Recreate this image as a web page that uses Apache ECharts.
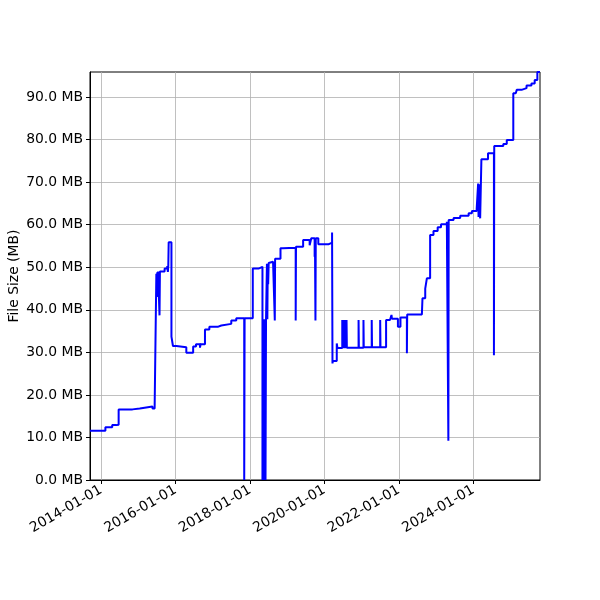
<!DOCTYPE html>
<html>
<head>
<meta charset="utf-8">
<script src="https://cdn.jsdelivr.net/npm/echarts@6/dist/echarts.min.js"></script>
<style>
  html, body { margin: 0; padding: 0; background: #fff; }
  #main { width: 600px; height: 600px; }
</style>
</head>
<body>
<div id="main"></div>
<script>
// dates where the file size changes, and the size (MB) from that date on
var changeDates = [
  '2013-09-14', '2014-02-12', '2014-04-20', '2014-06-01', '2014-06-22', '2014-11-05',
  '2015-01-15', '2015-03-04', '2015-05-20', '2015-06-10', '2015-06-27', '2015-07-02',
  '2015-07-06', '2015-07-10', '2015-07-14', '2015-07-28', '2015-08-01', '2015-09-16',
  '2015-10-12', '2015-10-18', '2015-10-22', '2015-10-26', '2015-11-22', '2015-12-07',
  '2016-01-10', '2016-04-16', '2016-06-22', '2016-07-20', '2016-08-28', '2016-09-03',
  '2016-10-16', '2016-11-28', '2017-02-18', '2017-03-25', '2017-07-01', '2017-08-19',
  '2017-11-05', '2017-11-09', '2018-01-28', '2018-03-25', '2018-05-03', '2018-05-08',
  '2018-05-13', '2018-05-18', '2018-05-23', '2018-05-28', '2018-06-02', '2018-06-07',
  '2018-06-16', '2018-06-20', '2018-06-24', '2018-06-28', '2018-07-03', '2018-07-20',
  '2018-08-15', '2018-09-01', '2018-09-04', '2018-10-27', '2018-11-20', '2019-03-25',
  '2019-03-28', '2019-06-06', '2019-08-09', '2019-08-25', '2019-09-27', '2019-09-30',
  '2019-10-05', '2019-10-08', '2019-11-02', '2020-02-09', '2020-03-16', '2020-03-20',
  '2020-03-24', '2020-05-01', '2020-05-08', '2020-06-24', '2020-06-27', '2020-07-04',
  '2020-07-07', '2020-07-14', '2020-07-17', '2020-07-25', '2020-07-28', '2020-08-05',
  '2020-08-08', '2020-12-01', '2020-12-04', '2021-01-18', '2021-01-21', '2021-04-09',
  '2021-04-12', '2021-07-01', '2021-07-04', '2021-08-28', '2021-10-05', '2021-10-20',
  '2021-10-24', '2021-12-22', '2022-01-16', '2022-03-20', '2022-03-23', '2022-08-14',
  '2022-08-20', '2022-09-16', '2022-10-02', '2022-11-03', '2022-12-06', '2023-01-16',
  '2023-02-18', '2023-04-16', '2023-05-01', '2023-05-04', '2023-06-21', '2023-08-25',
  '2023-11-16', '2023-12-18', '2024-02-03', '2024-02-17', '2024-02-21', '2024-02-25',
  '2024-02-29', '2024-03-08', '2024-03-20', '2024-05-24', '2024-07-21', '2024-07-24',
  '2024-10-21', '2024-11-24', '2025-01-27', '2025-02-20', '2025-03-02', '2025-04-18',
  '2025-06-06', '2025-07-24', '2025-08-25', '2025-09-20', '2025-10-16'
];
var fileSizes = [
  11.6, 12.4, 12.9, 13.0, 16.6, 16.8,
  17.0, 17.3, 16.8, 17.2, 48.5, 43.0,
  48.8, 45.0, 49.0, 38.7, 49.0, 49.7,
  50.3, 48.9, 50.3, 55.9, 33.7, 31.5,
  31.2, 29.9, 31.4, 31.9, 31.1, 31.9,
  35.4, 36.0, 36.3, 36.7, 37.5, 38.0,
  0.0, 38.0, 49.7, 50.1, 0.0, 37.8,
  0.0, 37.8, 0.0, 37.8, 0.0, 37.8,
  50.8, 37.8, 50.8, 46.0, 51.0, 51.3,
  51.7, 37.5, 52.0, 54.5, 54.6, 37.5,
  54.8, 56.4, 55.2, 56.8, 52.5, 56.8,
  37.5, 56.8, 55.4, 55.8, 58.2, 27.4,
  28.0, 32.1, 31.0, 37.6, 31.0, 37.6,
  31.0, 37.6, 31.0, 37.6, 31.0, 37.6,
  31.1, 37.6, 31.1, 37.6, 31.2, 37.6,
  31.2, 37.6, 31.2, 37.6, 37.8, 38.8,
  37.9, 36.0, 38.2, 29.8, 38.9, 39.1,
  42.7, 45.0, 47.4, 57.6, 58.5, 59.4,
  60.1, 60.7, 9.2, 61.1, 61.6, 62.1,
  62.7, 63.2, 63.8, 69.7, 61.8, 69.5,
  64.0, 61.5, 75.4, 76.8, 29.3, 78.5,
  79.0, 79.9, 90.9, 91.3, 91.7, 92.1,
  92.7, 93.2, 94.0, 95.9, 95.9
];
var xTicks = ['2014-01-01', '2016-01-01', '2018-01-01', '2020-01-01', '2022-01-01', '2024-01-01'];
var yTicks = [0, 10, 20, 30, 40, 50, 60, 70, 80, 90];

function toTime(s) {
  var p = s.split('-');
  return Date.UTC(+p[0], +p[1] - 1, +p[2]);
}
function pad(n) { return n < 10 ? '0' + n : '' + n; }

var myChart = echarts.init(document.getElementById('main'));
var font = 'DejaVu Sans';
var xTickTimes = xTicks.map(toTime);

var option = {
  animation: false,
  backgroundColor: '#fff',
  textStyle: { fontFamily: font },
  grid: {
    left: 90, right: 60, top: 72, bottom: 120,
    outerBoundsMode: 'none',
    containLabel: false,
    show: true, borderColor: '#000', borderWidth: 1, backgroundColor: 'transparent'
  },
  xAxis: {
    type: 'value',
    min: toTime('2013-09-14'),
    max: toTime('2025-10-16'),
    axisLine: { lineStyle: { color: '#000', width: 1 } },
    axisTick: { show: true, length: 4, lineStyle: { color: '#000' }, customValues: xTickTimes },
    axisLabel: {
      customValues: xTickTimes,
      rotate: 30,
      margin: 9,
      color: '#000',
      fontSize: 13.9,
      fontFamily: font,
      hideOverlap: false,
      formatter: function (val) {
        var d = new Date(val);
        return d.getUTCFullYear() + '-' + pad(d.getUTCMonth() + 1) + '-' + pad(d.getUTCDate());
      }
    },
    splitLine: { show: true, lineStyle: { color: '#b0b0b0', width: 0.8 } }
  },
  yAxis: {
    type: 'value',
    min: 0,
    max: 95.9,
    name: 'File Size (MB)',
    nameLocation: 'middle',
    nameGap: 69,
    nameMoveOverlap: false,
    nameTextStyle: { color: '#000', fontSize: 13.9, fontFamily: font },
    axisLine: { show: true, lineStyle: { color: '#000', width: 1 } },
    axisTick: { show: true, length: 4, lineStyle: { color: '#000' }, customValues: yTicks },
    axisLabel: {
      customValues: yTicks,
      margin: 7,
      color: '#000',
      fontSize: 13.9,
      fontFamily: font,
      formatter: function (v) { return v.toFixed(1) + ' MB'; }
    },
    splitLine: { show: true, lineStyle: { color: '#b0b0b0', width: 0.8 } }
  },
  series: [
    {
      type: 'line',
      step: 'end',
      showSymbol: false,
      data: changeDates.map(function (d, i) { return [toTime(d), fileSizes[i]]; }),
      lineStyle: { color: '#0000ff', width: 2 },
      itemStyle: { color: '#0000ff' }
    }
  ]
};
myChart.setOption(option);
</script>
</body>
</html>
